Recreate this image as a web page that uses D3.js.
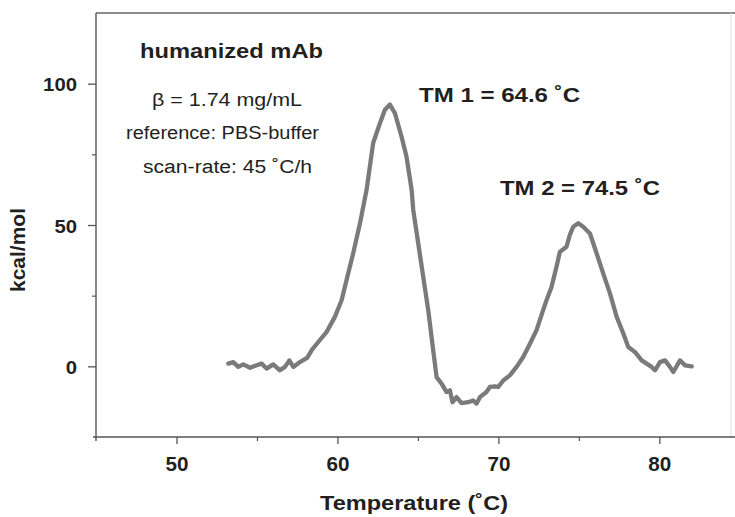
<!DOCTYPE html>
<html>
<head>
<meta charset="utf-8">
<script src="https://cdn.jsdelivr.net/npm/d3@7/dist/d3.min.js"></script>
<style>
  html, body { margin: 0; padding: 0; background: #fff; }
  svg { display: block; font-family: "Liberation Sans", Arial, Helvetica, sans-serif; }
</style>
</head>
<body>
<svg id="chart" width="735" height="517"></svg>
<script>
// ---- data ----
const tempC = [53.22,53.53,53.84,54.15,54.57,54.98,55.29,55.60,56.01,56.43,56.74,57.01,57.26,57.67,58.13,58.40,58.81,59.33,59.84,60.26,60.67,60.98,61.40,61.81,62.22,62.64,62.95,63.26,63.57,63.98,64.29,64.61,64.71,65.02,65.33,65.64,65.95,66.16,66.47,66.78,66.99,67.15,67.40,67.71,68.12,68.43,68.64,68.85,69.26,69.47,69.78,69.99,70.30,70.71,71.13,71.54,71.96,72.37,72.78,72.99,73.30,73.61,73.82,74.23,74.44,74.65,74.96,75.27,75.69,76.10,76.51,76.93,77.35,77.76,78.07,78.48,78.90,79.21,79.52,79.73,80.04,80.35,80.66,80.87,81.28,81.60,82.01];
const kcalMol = [0.95,1.5,-0.2,0.7,-0.5,0.35,0.95,-0.8,0.7,-1.4,-0.2,2.1,-0.2,1.5,3.1,5.7,8.6,12.2,17.5,23.4,32.9,40,50.6,62.4,79,86,90.8,92.6,89.6,81.3,74.2,62.4,55.3,43.5,31.7,19.9,5.7,-3.8,-6.1,-9.1,-8.5,-12.7,-10.9,-13,-12.7,-12.1,-13.2,-10.9,-9.1,-7.3,-7.1,-7.3,-5,-3.2,-0.2,3.3,8,12.8,19.9,23.4,28.1,35.2,40.5,42.3,46.5,49.4,50.6,49.4,47,40,32.9,25.8,17.5,11.6,6.8,5.1,2.1,0.95,-0.2,-1.4,1.5,2.1,-0.2,-2,2.1,0.35,0];
const xMajorTicks = [50, 60, 70, 80];
const xMinorTicks = [55, 65, 75];
const yMajorTicks = [0, 50, 100];
const yMinorTicks = [25, 75];
const xDomain = [45, 84.7];
const yDomain = [-25, 125];
const infoLines = ["β = 1.74 mg/mL", "reference: PBS-buffer", "scan-rate: 45 ˚C/h"];
const titleText = "humanized mAb";
const peakLabels = ["TM 1 = 64.6 ˚C", "TM 2 = 74.5 ˚C"];
const xTitle = "Temperature (˚C)";
const yTitle = "kcal/mol";

// ---- layout ----
const svg = d3.select("#chart");
const L = 96, R = 735, T = 13, B = 437;
const axisColor = "#555";
const textColor = "#231f20";

const x = d3.scaleLinear().domain(xDomain).range([L, R]);
const y = d3.scaleLinear().domain(yDomain).range([B, T]);

// frame: top line and faint right line
svg.append("line").attr("x1", L).attr("x2", R).attr("y1", T).attr("y2", T)
  .attr("stroke", "#666").attr("stroke-width", 1.3);
svg.append("line").attr("x1", 731).attr("x2", 731).attr("y1", T).attr("y2", B)
  .attr("stroke", "#e2e2e2").attr("stroke-width", 1);

// minor ticks
svg.append("g").attr("transform", `translate(0,${B})`)
  .call(d3.axisBottom(x).tickValues(xMinorTicks).tickSize(4).tickFormat(""))
  .call(g => g.select(".domain").remove())
  .call(g => g.selectAll("line").attr("stroke", axisColor).attr("stroke-width", 1.2));
svg.append("g").attr("transform", `translate(${L},0)`)
  .call(d3.axisLeft(y).tickValues(yMinorTicks).tickSize(4).tickFormat(""))
  .call(g => g.select(".domain").remove())
  .call(g => g.selectAll("line").attr("stroke", axisColor).attr("stroke-width", 1.2));

// x axis
const gx = svg.append("g").attr("transform", `translate(0,${B})`)
  .call(d3.axisBottom(x).tickValues(xMajorTicks).tickSize(7).tickSizeOuter(0).tickPadding(13));
gx.select(".domain").remove();
gx.append("line").attr("x1", L - 3).attr("x2", R).attr("y1", 0).attr("y2", 0)
  .attr("stroke", axisColor).attr("stroke-width", 1.6);
gx.selectAll(".tick line").attr("stroke", axisColor).attr("stroke-width", 1.3);
gx.selectAll(".tick text")
  .attr("fill", textColor).attr("font-size", 20).attr("font-weight", "bold")
  .attr("font-family", "Liberation Sans, Arial, sans-serif")
  .attr("textLength", 23).attr("lengthAdjust", "spacingAndGlyphs");

// y axis
const gy = svg.append("g").attr("transform", `translate(${L},0)`)
  .call(d3.axisLeft(y).tickValues(yMajorTicks).tickSize(8).tickSizeOuter(0).tickPadding(11));
gy.select(".domain").remove();
gy.append("line").attr("x1", 0).attr("x2", 0).attr("y1", T).attr("y2", B + 4)
  .attr("stroke", axisColor).attr("stroke-width", 1.4);
gy.selectAll(".tick line").attr("stroke", axisColor).attr("stroke-width", 1.3);
gy.selectAll(".tick text")
  .attr("fill", textColor).attr("font-size", 18.5).attr("font-weight", "bold")
  .attr("font-family", "Liberation Sans, Arial, sans-serif")
  .attr("dy", "0.38em")
  .each(function(d) {
    const s = String(d);
    d3.select(this).attr("textLength", s.length * 11.3).attr("lengthAdjust", "spacingAndGlyphs");
  });

// curve
const line = d3.line().x((d, i) => x(tempC[i])).y(d => y(d));
svg.append("path")
  .datum(kcalMol)
  .attr("d", line)
  .attr("fill", "none")
  .attr("stroke", "#7a7a7a")
  .attr("stroke-width", 4.3)
  .attr("stroke-linejoin", "round")
  .attr("stroke-linecap", "round");

// helper for text
function label(txt, cx, baseline, size, weight, width) {
  return svg.append("text")
    .attr("x", cx).attr("y", baseline)
    .attr("text-anchor", "middle")
    .attr("font-size", size).attr("font-weight", weight)
    .attr("fill", textColor)
    .attr("textLength", width).attr("lengthAdjust", "spacingAndGlyphs")
    .text(txt);
}

// info block
label(titleText, 231.5, 58, 21, "bold", 183);
label(infoLines[0], 227, 106, 18, "normal", 150);
label(infoLines[1], 222.5, 139, 18, "normal", 193);
label(infoLines[2], 227.5, 173, 18, "normal", 169);

// peak labels
label(peakLabels[0], 499.5, 102, 21, "bold", 161);
label(peakLabels[1], 580, 195, 21, "bold", 160);

// axis titles
label(xTitle, 414, 510, 21, "bold", 188);
svg.append("text")
  .attr("transform", "translate(25,250) rotate(-90)")
  .attr("text-anchor", "middle")
  .attr("font-size", 21).attr("font-weight", "bold")
  .attr("fill", textColor)
  .attr("textLength", 84).attr("lengthAdjust", "spacingAndGlyphs")
  .text(yTitle);
</script>
</body>
</html>
